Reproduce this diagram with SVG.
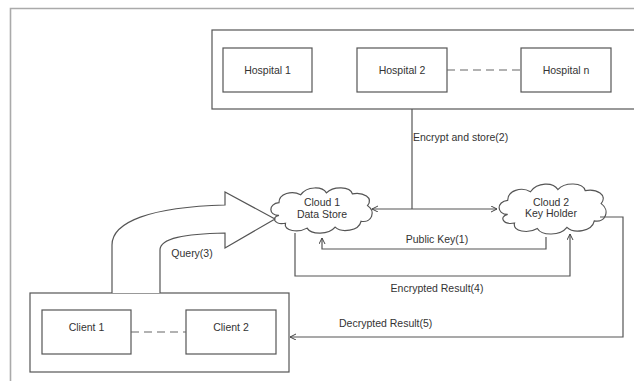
<svg xmlns="http://www.w3.org/2000/svg" width="634" height="381" viewBox="0 0 634 381">
<style>
.box{fill:#fff;stroke:#555;stroke-width:1.2}
.ln{fill:none;stroke:#555;stroke-width:1.2}
.dash{fill:none;stroke:#666;stroke-width:1.2;stroke-dasharray:8 5}
.frame{fill:none;stroke:#aaa;stroke-width:1.6}
.t{font-family:"Liberation Sans",Arial,sans-serif;font-size:10.5px;fill:#333;text-anchor:middle}
.ts{font-family:"Liberation Sans",Arial,sans-serif;font-size:10.5px;fill:#333}
.cloud{fill:#fff;stroke:#555;stroke-width:1.2}
</style>
<defs>
<marker id="ah" markerWidth="8" markerHeight="8" refX="6" refY="3" orient="auto" markerUnits="userSpaceOnUse">
<path d="M0,0 L6,3 L0,6" fill="none" stroke="#444" stroke-width="1"/>
</marker>
<path id="cloudshape" d="M12,30 C2,30 2,18 12,17 C12,8 24,4 32,9 C38,0 52,0 56,7 C62,0 78,0 80,8 C90,6 100,12 94,20 C102,26 98,38 88,36 C86,46 70,48 64,42 C58,50 42,50 38,43 C30,48 16,46 18,38 C8,40 4,32 12,30 Z"/>
</defs>
<rect width="634" height="381" fill="#fff"/>
<g id="frame">
<path class="frame" d="M10.5,381 L10.5,8.5 L634,8.5"/>
</g>
<g id="hospitals">
<rect class="box" x="212" y="30" width="440" height="79"/>
</g>
<g id="hospital1">
<rect class="box" x="223" y="48" width="89" height="44"/>
<text class="t" x="267.5" y="74">Hospital 1</text>
</g>
<g id="hospital2">
<rect class="box" x="357" y="48" width="90" height="44"/>
<text class="t" x="402" y="74">Hospital 2</text>
</g>
<g id="hospitaln">
<rect class="box" x="521" y="48" width="90" height="44"/>
<text class="t" x="566" y="74">Hospital n</text>
</g>
<g id="clients">
<rect class="box" x="30" y="293" width="259" height="79"/>
</g>
<g id="client1">
<rect class="box" x="42" y="310" width="89" height="44"/>
<text class="t" x="86.5" y="331">Client 1</text>
</g>
<g id="client2">
<rect class="box" x="186" y="310" width="90" height="44"/>
<text class="t" x="231" y="331">Client 2</text>
</g>
<g id="cloud1">
<use href="#cloudshape" class="cloud" transform="translate(266,186) scale(1.08,0.98)" vector-effect="non-scaling-stroke" style="stroke-width:1.15"/>
<text class="t" x="322" y="206">Cloud 1</text>
<text class="t" x="322" y="218">Data Store</text>
</g>
<g id="cloud2">
<use href="#cloudshape" class="cloud" transform="translate(494,182) scale(1.14,1.08)" style="stroke-width:1.05"/>
<text class="t" x="551" y="206">Cloud 2</text>
<text class="t" x="551" y="217">Key Holder</text>
</g>
<g id="connectors">
<path class="dash" d="M447,70 L521,70"/>
<path class="dash" d="M131,332 L186,332"/>
<path class="ln" d="M412,109 L412,209"/>
<path class="ln" d="M412,209 L372,209" marker-end="url(#ah)"/>
<path class="ln" d="M412,209 L497,209" marker-end="url(#ah)"/>
<path class="ln" d="M546,237 L546,249 L322,249 L322,238" marker-end="url(#ah)"/>
<path class="ln" d="M295,233 L295,276 L570,276 L570,234" marker-end="url(#ah)"/>
<path class="ln" d="M600,217 L623,217 L623,337 L290,337" marker-end="url(#ah)"/>
<path class="box" d="M112,293 L112,245 C112,222 150,207 225,205 L225,192 L275,219 L225,248 L225,233 C185,234 160,238 160,250 L160,293"/>
<text class="ts" x="413" y="141">Encrypt and store(2)</text>
<text class="t" x="437" y="243">Public Key(1)</text>
<text class="t" x="437" y="292">Encrypted Result(4)</text>
<text class="ts" x="339" y="327">Decrypted Result(5)</text>
<text class="t" x="192" y="257">Query(3)</text>
</g>
</svg>
